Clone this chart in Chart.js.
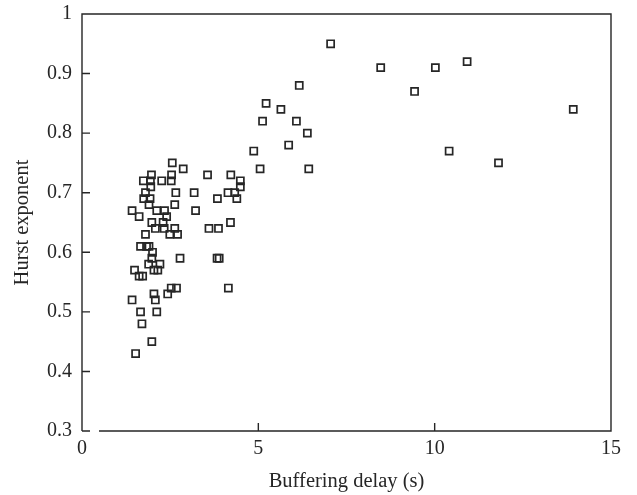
<!DOCTYPE html>
<html lang="en">
<head>
    <meta charset="UTF-8">
    <title>Hurst exponent vs buffering delay</title>
    <script src="https://cdn.jsdelivr.net/npm/chart.js"></script>
    <style>
        html, body { margin: 0; padding: 0; background: #fff; }
        #wrap { width: 637px; height: 495px; position: relative; }
    </style>
</head>
<body>
    <div id="wrap"><canvas id="scatter"></canvas></div>

    <script>
        // Buffering delay (s) of each session
        const delay = [
            1.42, 1.62, 1.97, 1.74, 1.94, 2.26, 2.56, 2.54, 2.53, 2.87,
            1.80, 1.95, 2.66, 1.75, 1.93, 1.90, 2.63, 2.12, 2.34, 2.40,
            1.98, 2.30, 2.08, 2.33, 2.63, 2.49, 2.71, 1.80, 3.18, 3.22,
            3.56, 3.84, 3.60, 3.87, 4.21, 4.22, 4.14, 4.33, 4.39, 4.49,
            4.49, 4.87, 5.05, 5.12, 5.22, 5.64, 5.86, 6.08, 6.16, 6.39,
            6.43, 7.05, 8.47, 10.02, 10.92, 9.43, 13.93, 10.41, 11.81,
            1.66, 1.83, 1.90, 2.00, 1.98, 2.78, 3.83, 3.89, 1.49, 1.62,
            1.72, 1.89, 2.21, 2.15, 2.04, 2.04, 2.43, 2.53, 2.68, 4.15,
            1.42, 2.08, 1.66, 2.12, 1.70, 1.98, 1.52
        ];

        // Hurst exponent measured for the same sessions
        const hurst = [
            0.67, 0.66, 0.73, 0.72, 0.72, 0.72, 0.75, 0.73, 0.72, 0.74,
            0.70, 0.71, 0.70, 0.69, 0.69, 0.68, 0.68, 0.67, 0.67, 0.66,
            0.65, 0.65, 0.64, 0.64, 0.64, 0.63, 0.63, 0.63, 0.70, 0.67,
            0.73, 0.69, 0.64, 0.64, 0.65, 0.73, 0.70, 0.70, 0.69, 0.72,
            0.71, 0.77, 0.74, 0.82, 0.85, 0.84, 0.78, 0.82, 0.88, 0.80,
            0.74, 0.95, 0.91, 0.91, 0.92, 0.87, 0.84, 0.77, 0.75,
            0.61, 0.61, 0.61, 0.60, 0.59, 0.59, 0.59, 0.59, 0.57, 0.56,
            0.56, 0.58, 0.58, 0.57, 0.57, 0.53, 0.53, 0.54, 0.54, 0.54,
            0.52, 0.52, 0.50, 0.50, 0.48, 0.45, 0.43
        ];

        const xTicks = [0, 5, 10, 15];
        const yTicks = [0.3, 0.4, 0.5, 0.6, 0.7, 0.8, 0.9, 1];

        const ink = '#262626';
        const serif = '"Liberation Serif", "DejaVu Serif", serif';

        // Open frame: x axis starts a little right of the y axis, ticks point inward
        const framePlugin = {
            id: 'frame',
            afterDraw(chart) {
                const { ctx, chartArea: a, scales: { x, y } } = chart;
                const tick = 8;
                ctx.save();
                ctx.strokeStyle = ink;
                ctx.lineWidth = 1.4;
                ctx.beginPath();
                // left, top, right
                ctx.moveTo(a.left, a.bottom);
                ctx.lineTo(a.left, a.top);
                ctx.lineTo(a.right, a.top);
                ctx.lineTo(a.right, a.bottom);
                // bottom, offset from the corner
                ctx.lineTo(a.left + 17, a.bottom);
                yTicks.forEach(v => {
                    if (v === 1) return;
                    const py = y.getPixelForValue(v);
                    ctx.moveTo(a.left, py);
                    ctx.lineTo(a.left + tick, py);
                });
                xTicks.forEach(v => {
                    if (v === 0 || v === 15) return;
                    const px = x.getPixelForValue(v);
                    ctx.moveTo(px, a.bottom);
                    ctx.lineTo(px, a.bottom - tick);
                });
                ctx.stroke();
                ctx.restore();
            }
        };

        const ctx = document.getElementById('scatter').getContext('2d');
        new Chart(ctx, {
            type: 'scatter',
            data: {
                datasets: [{
                    data: delay.map((d, i) => ({ x: d, y: hurst[i] })),
                    pointStyle: 'rect',
                    pointRadius: 5,
                    pointHoverRadius: 5,
                    pointBorderWidth: 1.7,
                    borderColor: ink,
                    backgroundColor: 'rgba(0,0,0,0)'
                }]
            },
            options: {
                responsive: true,
                maintainAspectRatio: false,
                animation: false,
                layout: { padding: { top: 14, right: 26, bottom: 0, left: 0 } },
                plugins: {
                    legend: { display: false },
                    tooltip: { enabled: false }
                },
                scales: {
                    x: {
                        type: 'linear',
                        min: 0,
                        max: 15,
                        afterBuildTicks: s => { s.ticks = xTicks.map(v => ({ value: v })); },
                        afterFit: s => {
                            s.height = 64;
                            s.paddingLeft = 0;
                            s.paddingRight = 0;
                        },
                        grid: { display: false, drawTicks: false },
                        border: { display: false },
                        ticks: {
                            padding: 6,
                            maxRotation: 0,
                            color: ink,
                            font: { family: serif, size: 20 }
                        },
                        title: {
                            display: true,
                            text: 'Buffering delay (s)',
                            color: ink,
                            font: { family: serif, size: 20.5 },
                            padding: { top: 0, bottom: 1 }
                        }
                    },
                    y: {
                        type: 'linear',
                        min: 0.3,
                        max: 1,
                        afterBuildTicks: s => { s.ticks = yTicks.map(v => ({ value: v })); },
                        afterFit: s => {
                            s.width = 82;
                            s.paddingTop = 0;
                            s.paddingBottom = 0;
                        },
                        grid: { display: false, drawTicks: false },
                        border: { display: false },
                        ticks: {
                            padding: 10,
                            color: ink,
                            font: { family: serif, size: 20 },
                            callback: v => String(Number(v.toFixed(1)))
                        },
                        title: {
                            display: true,
                            text: 'Hurst exponent',
                            color: ink,
                            font: { family: serif, size: 20.5 },
                            padding: { top: 10, bottom: 0 }
                        }
                    }
                }
            },
            plugins: [framePlugin]
        });
    </script>
</body>
</html>
